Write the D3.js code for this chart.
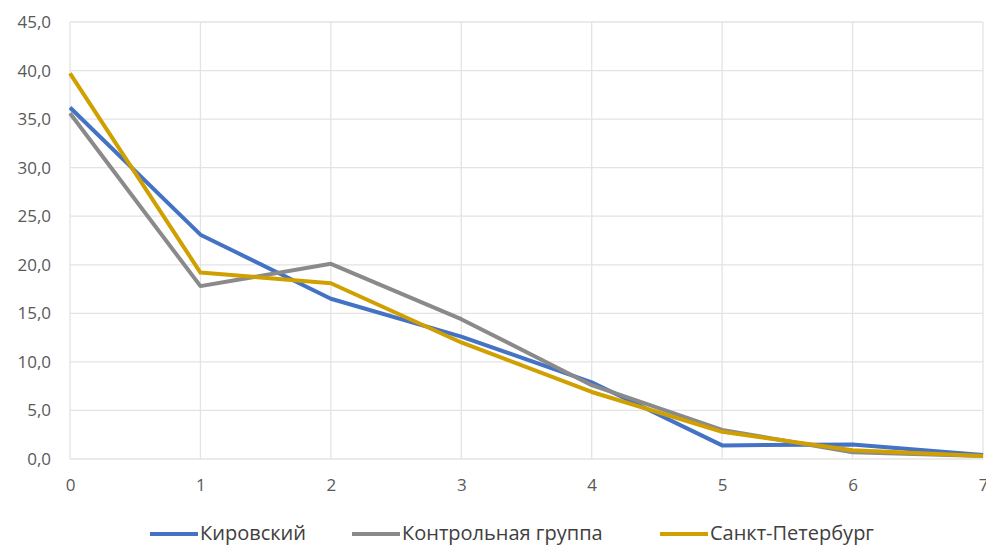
<!DOCTYPE html>
<html><head><meta charset="utf-8">
<script src="https://cdn.jsdelivr.net/npm/d3@7"></script>
<style>body{margin:0;background:#fff;}svg{display:block;}</style>
</head><body>
<svg id="c" width="986" height="546"></svg>
<script>
const xCats = [0,1,2,3,4,5,6,7];
const yTicks = [0,5,10,15,20,25,30,35,40,45];
const seriesNames = ["Кировский","Контрольная группа","Санкт-Петербург"];
const kirovsky = [36.2,23.1,16.5,12.6,7.9,1.4,1.5,0.4];
const control = [35.6,17.8,20.1,14.4,7.6,3.0,0.7,0.3];
const spb = [39.7,19.2,18.1,12.0,6.9,2.8,0.9,0.3];
const colors = ["#4472C4","#8A8A8A","#D09F00"];

const svg = d3.select("#c");
const x = d3.scaleLinear().domain([0,7]).range([70,983]);
const y = d3.scaleLinear().domain([0,45]).range([459,22]);

// grid
svg.append("g").selectAll("line.h").data(yTicks).join("line")
  .attr("x1",x(0)).attr("x2",x(7)).attr("y1",d=>y(d)).attr("y2",d=>y(d))
  .attr("stroke","#e3e3e3").attr("stroke-width",1.3);
svg.append("g").selectAll("line.v").data(xCats).join("line")
  .attr("x1",d=>x(d)).attr("x2",d=>x(d)).attr("y1",y(45)).attr("y2",y(0))
  .attr("stroke","#e3e3e3").attr("stroke-width",1.3);

const font = "'Open Sans', 'Noto Sans', sans-serif";
const yAxis = d3.axisLeft(y).tickValues(yTicks).tickSize(0).tickPadding(19)
  .tickFormat(d=>d3.format(".1f")(d).replace(".",","));
const gy = svg.append("g").attr("transform",`translate(${x(0)},0)`).call(yAxis);
gy.select(".domain").remove();
gy.selectAll("text").attr("font-family",font).attr("font-size",17).attr("fill","#595959");

const xAxis = d3.axisBottom(x).tickValues(xCats).tickSize(0).tickPadding(20).tickFormat(d3.format("d"));
const gx = svg.append("g").attr("transform",`translate(0,${y(0)})`).call(xAxis);
gx.select(".domain").remove();
gx.selectAll("text").attr("font-family",font).attr("font-size",17).attr("fill","#595959");

const data = [kirovsky, control, spb];
const line = d3.line().x((d,i)=>x(xCats[i])).y(d=>y(d));
svg.append("g").selectAll("path").data(data).join("path")
  .attr("d",line).attr("fill","none")
  .attr("stroke",(d,i)=>colors[i]).attr("stroke-width",4)
  .attr("stroke-linejoin","round");

// legend
const legX = [150,352,660];
const leg = svg.append("g");
seriesNames.forEach((n,i)=>{
  leg.append("line").attr("x1",legX[i]).attr("x2",legX[i]+48)
    .attr("y1",534).attr("y2",534).attr("stroke",colors[i]).attr("stroke-width",4);
  leg.append("text").attr("x",legX[i]+50).attr("y",540).text(n)
    .attr("font-family",font).attr("font-size",20).attr("fill","#404040");
});
</script>
</body></html>
